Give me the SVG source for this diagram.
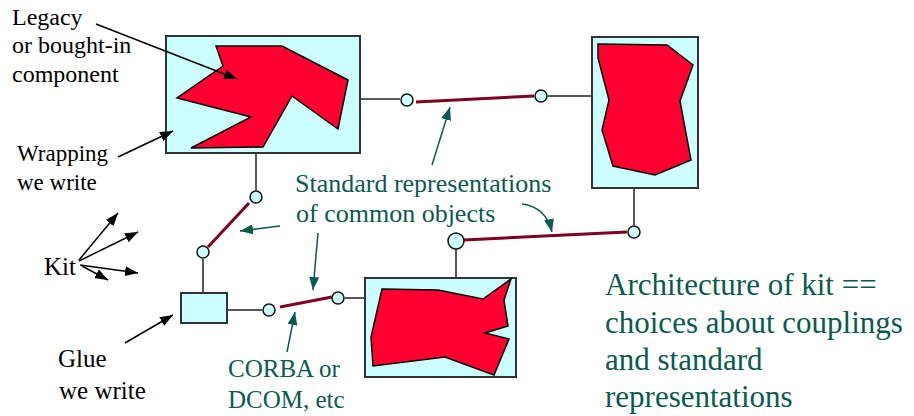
<svg xmlns="http://www.w3.org/2000/svg" width="914" height="416" viewBox="0 0 914 416">
<defs>
<marker id="ab" markerUnits="userSpaceOnUse" markerWidth="14" markerHeight="10" refX="13" refY="5" orient="auto"><path d="M0,0 L13,5 L0,10 z" fill="#000"/></marker>
<marker id="at" markerUnits="userSpaceOnUse" markerWidth="14" markerHeight="10" refX="13" refY="5" orient="auto"><path d="M0,0 L13,5 L0,10 z" fill="#0b5a4f"/></marker>
</defs>
<style>
.box{fill:#ccffff;stroke:#333;stroke-width:2}
.poly{fill:#ff0030;stroke:#000;stroke-width:1.5;stroke-linejoin:miter}
.pin{fill:#ccffff;stroke:#111;stroke-width:1.5}
.wire{stroke:#222;stroke-width:1.5;fill:none}
.std{stroke:#800020;stroke-width:3;fill:none}
.ann{stroke:#000;stroke-width:1.5;fill:none;marker-end:url(#ab)}
.tann{stroke:#0b5a4f;stroke-width:1.5;fill:none;marker-end:url(#at)}
text{font-family:'Liberation Serif','DejaVu Serif',serif}
.bt{fill:#000}
.tt{fill:#0b5a4f}
</style>
<rect width="914" height="416" fill="#fff"/>
<g id="connectors">
<line class="wire" x1="360" y1="99" x2="400" y2="99"/>
<line class="std" x1="416" y1="102" x2="534" y2="96"/>
<line class="wire" x1="548" y1="96" x2="592" y2="96"/>
<line class="wire" x1="634" y1="188" x2="634" y2="225"/>
<line class="std" x1="464" y1="240" x2="627" y2="232"/>
<line class="wire" x1="456" y1="249" x2="456" y2="278"/>
<line class="wire" x1="256" y1="153" x2="256" y2="190"/>
<line class="std" x1="249" y1="203" x2="208" y2="247"/>
<line class="wire" x1="203" y1="259" x2="203" y2="293"/>
<line class="wire" x1="227" y1="310" x2="262" y2="310"/>
<line class="std" x1="280" y1="307" x2="332" y2="297"/>
<line class="wire" x1="345" y1="298" x2="365" y2="298"/>
</g>
<g id="pins">
<circle class="pin" cx="407" cy="100" r="6"/>
<circle class="pin" cx="541" cy="96" r="6"/>
<circle class="pin" cx="634" cy="232" r="6"/>
<circle class="pin" cx="456" cy="241" r="8"/>
<circle class="pin" cx="256" cy="197" r="6"/>
<circle class="pin" cx="203" cy="252" r="6"/>
<circle class="pin" cx="269" cy="310" r="6"/>
<circle class="pin" cx="338" cy="298" r="6"/>
</g>
<g id="legacy">
<rect class="box" x="166" y="36" width="194" height="117"/>
<polygon class="poly" points="216,46 282,46 348,80 338,129 292,96 263,147 191,148 251,117 177,98 223,66"/>
</g>
<g id="component2">
<rect class="box" x="592" y="37" width="106" height="151"/>
<polygon class="poly" points="598,44 667,45 693,65 680,101 691,160 655,175 613,166 602,130 609,100 598,58"/>
</g>
<g id="component3">
<rect class="box" x="365" y="278" width="151" height="99"/>
<polygon class="poly" points="382,289 438,290 483,299 511,279 504,300 508,326 485,333 509,339 494,375 445,357 373,366 371,337"/>
</g>
<g id="glue">
<rect class="box" x="181" y="293" width="46" height="30"/>
</g>
<g id="annotations">
<line class="ann" x1="96" y1="24" x2="237" y2="79"/>
<line class="ann" x1="118" y1="157" x2="173" y2="131"/>
<line class="ann" x1="125" y1="343" x2="173" y2="315"/>
<line class="ann" x1="79" y1="260" x2="118" y2="213"/>
<line class="ann" x1="79" y1="261" x2="138" y2="232"/>
<line class="ann" x1="80" y1="265" x2="138" y2="273"/>
<line class="ann" x1="82" y1="266" x2="108" y2="280"/>
<line class="tann" x1="432" y1="165" x2="450" y2="107"/>
<path class="tann" d="M522,204 Q546,207 552,232"/>
<line class="tann" x1="280" y1="226" x2="240" y2="231"/>
<line class="tann" x1="318" y1="233" x2="313" y2="290"/>
<line class="tann" x1="287" y1="352" x2="295" y2="312"/>
</g>
<g id="labels">
<text class="bt" font-size="24"><tspan x="12" y="25">Legacy</tspan><tspan x="12" y="53">or bought-in</tspan><tspan x="12" y="82">component</tspan></text>
<text class="bt" font-size="23"><tspan x="17" y="161">Wrapping</tspan><tspan x="17" y="190">we write</tspan></text>
<text class="bt" font-size="25" x="44" y="275">Kit</text>
<text class="bt" font-size="25"><tspan x="58" y="367">Glue</tspan><tspan x="59" y="399">we write</tspan></text>
<text class="tt" font-size="26"><tspan x="295" y="192">Standard representations</tspan><tspan x="296" y="222">of common objects</tspan></text>
<text class="tt" font-size="25"><tspan x="228" y="377">CORBA or</tspan><tspan x="228" y="408">DCOM, etc</tspan></text>
<text class="tt" font-size="31"><tspan x="605" y="295">Architecture of kit ==</tspan><tspan x="605" y="333">choices about couplings</tspan><tspan x="605" y="370">and standard</tspan><tspan x="605" y="407">representations</tspan></text>
</g>
</svg>
